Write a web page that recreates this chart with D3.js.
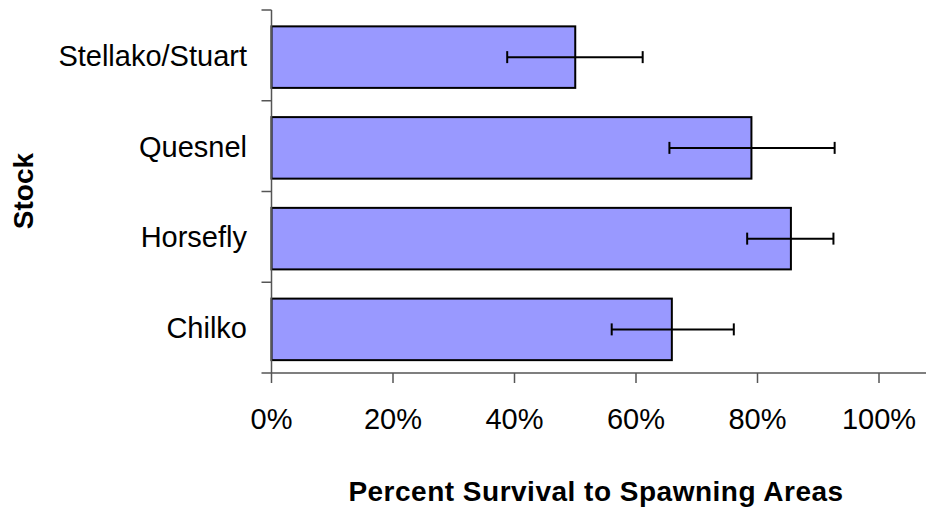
<!DOCTYPE html>
<html>
<head>
<meta charset="utf-8">
<script src="https://cdn.jsdelivr.net/npm/d3@7"></script>
<style>
  body { margin: 0; background: #fff; }
  text { font-family: "Liberation Sans", Arial, sans-serif; fill: #000; }
</style>
</head>
<body>
<svg width="926" height="508"></svg>
<script>
// Stock names, top to bottom
const stocks = ["Stellako/Stuart", "Quesnel", "Horsefly", "Chilko"];
// Percent survival (as fraction) and error bar ends
const survival = [0.500, 0.790, 0.855, 0.659];
const errLow = [0.388, 0.655, 0.783, 0.560];
const errHigh = [0.611, 0.927, 0.925, 0.761];
const xTicks = [0, 0.2, 0.4, 0.6, 0.8, 1.0];

const svg = d3.select("svg");

// Plot area
const plotLeft = 271.5, plotRight = 926, plotTop = 10, plotBottom = 373;

const x = d3.scaleLinear()
  .domain([0, 1])
  .range([plotLeft, 879]);

const y = d3.scaleBand()
  .domain(stocks)
  .range([plotTop, plotBottom])
  .paddingInner(0.322)
  .paddingOuter(0.161)
  .align(0.56);

// Band boundaries for the category ticks
const yb = d3.scaleBand().domain(stocks).range([plotTop, plotBottom]);

// Bars
svg.append("g")
  .selectAll("rect")
  .data(stocks)
  .join("rect")
  .attr("x", x(0))
  .attr("y", d => y(d))
  .attr("width", (d, i) => x(survival[i]) - x(0))
  .attr("height", y.bandwidth())
  .attr("fill", "#9999ff")
  .attr("stroke", "#000")
  .attr("stroke-width", 2);

// Error bars
const err = svg.append("g")
  .attr("stroke", "#000")
  .attr("stroke-width", 2);

stocks.forEach((s, i) => {
  const cy = y(s) + y.bandwidth() / 2;
  err.append("line")
    .attr("x1", x(errLow[i])).attr("x2", x(errHigh[i]))
    .attr("y1", cy).attr("y2", cy);
  [errLow[i], errHigh[i]].forEach(v => {
    err.append("line")
      .attr("x1", x(v)).attr("x2", x(v))
      .attr("y1", cy - 6).attr("y2", cy + 6);
  });
});

// Axes
const axisColor = "#555";
const axes = svg.append("g")
  .attr("stroke", axisColor)
  .attr("stroke-width", 1.5);

// y axis line and ticks at band edges
axes.append("line")
  .attr("x1", plotLeft).attr("x2", plotLeft)
  .attr("y1", plotTop).attr("y2", plotBottom);
const edges = stocks.map(s => yb(s)).concat([plotBottom]);
axes.selectAll(".ytick")
  .data(edges)
  .join("line")
  .attr("x1", plotLeft - 10).attr("x2", plotLeft)
  .attr("y1", d => d).attr("y2", d => d);

// x axis line and ticks
axes.append("line")
  .attr("x1", plotLeft).attr("x2", plotRight)
  .attr("y1", plotBottom).attr("y2", plotBottom);
axes.selectAll(".xtick")
  .data(xTicks)
  .join("line")
  .attr("x1", d => x(d)).attr("x2", d => x(d))
  .attr("y1", plotBottom).attr("y2", plotBottom + 10);

// x tick labels
svg.append("g")
  .selectAll("text")
  .data(xTicks)
  .join("text")
  .attr("x", d => x(d))
  .attr("y", 429)
  .attr("text-anchor", "middle")
  .style("font-size", "29px")
  .text(d3.format(".0%"));

// category labels
svg.append("g")
  .selectAll("text")
  .data(stocks)
  .join("text")
  .attr("x", 247)
  .attr("y", d => yb(d) + yb.bandwidth() / 2)
  .attr("dy", "0.36em")
  .attr("text-anchor", "end")
  .style("font-size", "29px")
  .text(d => d);

// axis titles
svg.append("text")
  .attr("x", 596)
  .attr("y", 501)
  .attr("text-anchor", "middle")
  .style("font-size", "28px")
  .style("font-weight", "bold")
  .style("letter-spacing", "0.5px")
  .text("Percent Survival to Spawning Areas");

svg.append("text")
  .attr("transform", "translate(33,191) rotate(-90)")
  .attr("text-anchor", "middle")
  .style("font-size", "28px")
  .style("font-weight", "bold")
  .text("Stock");
</script>
</body>
</html>
